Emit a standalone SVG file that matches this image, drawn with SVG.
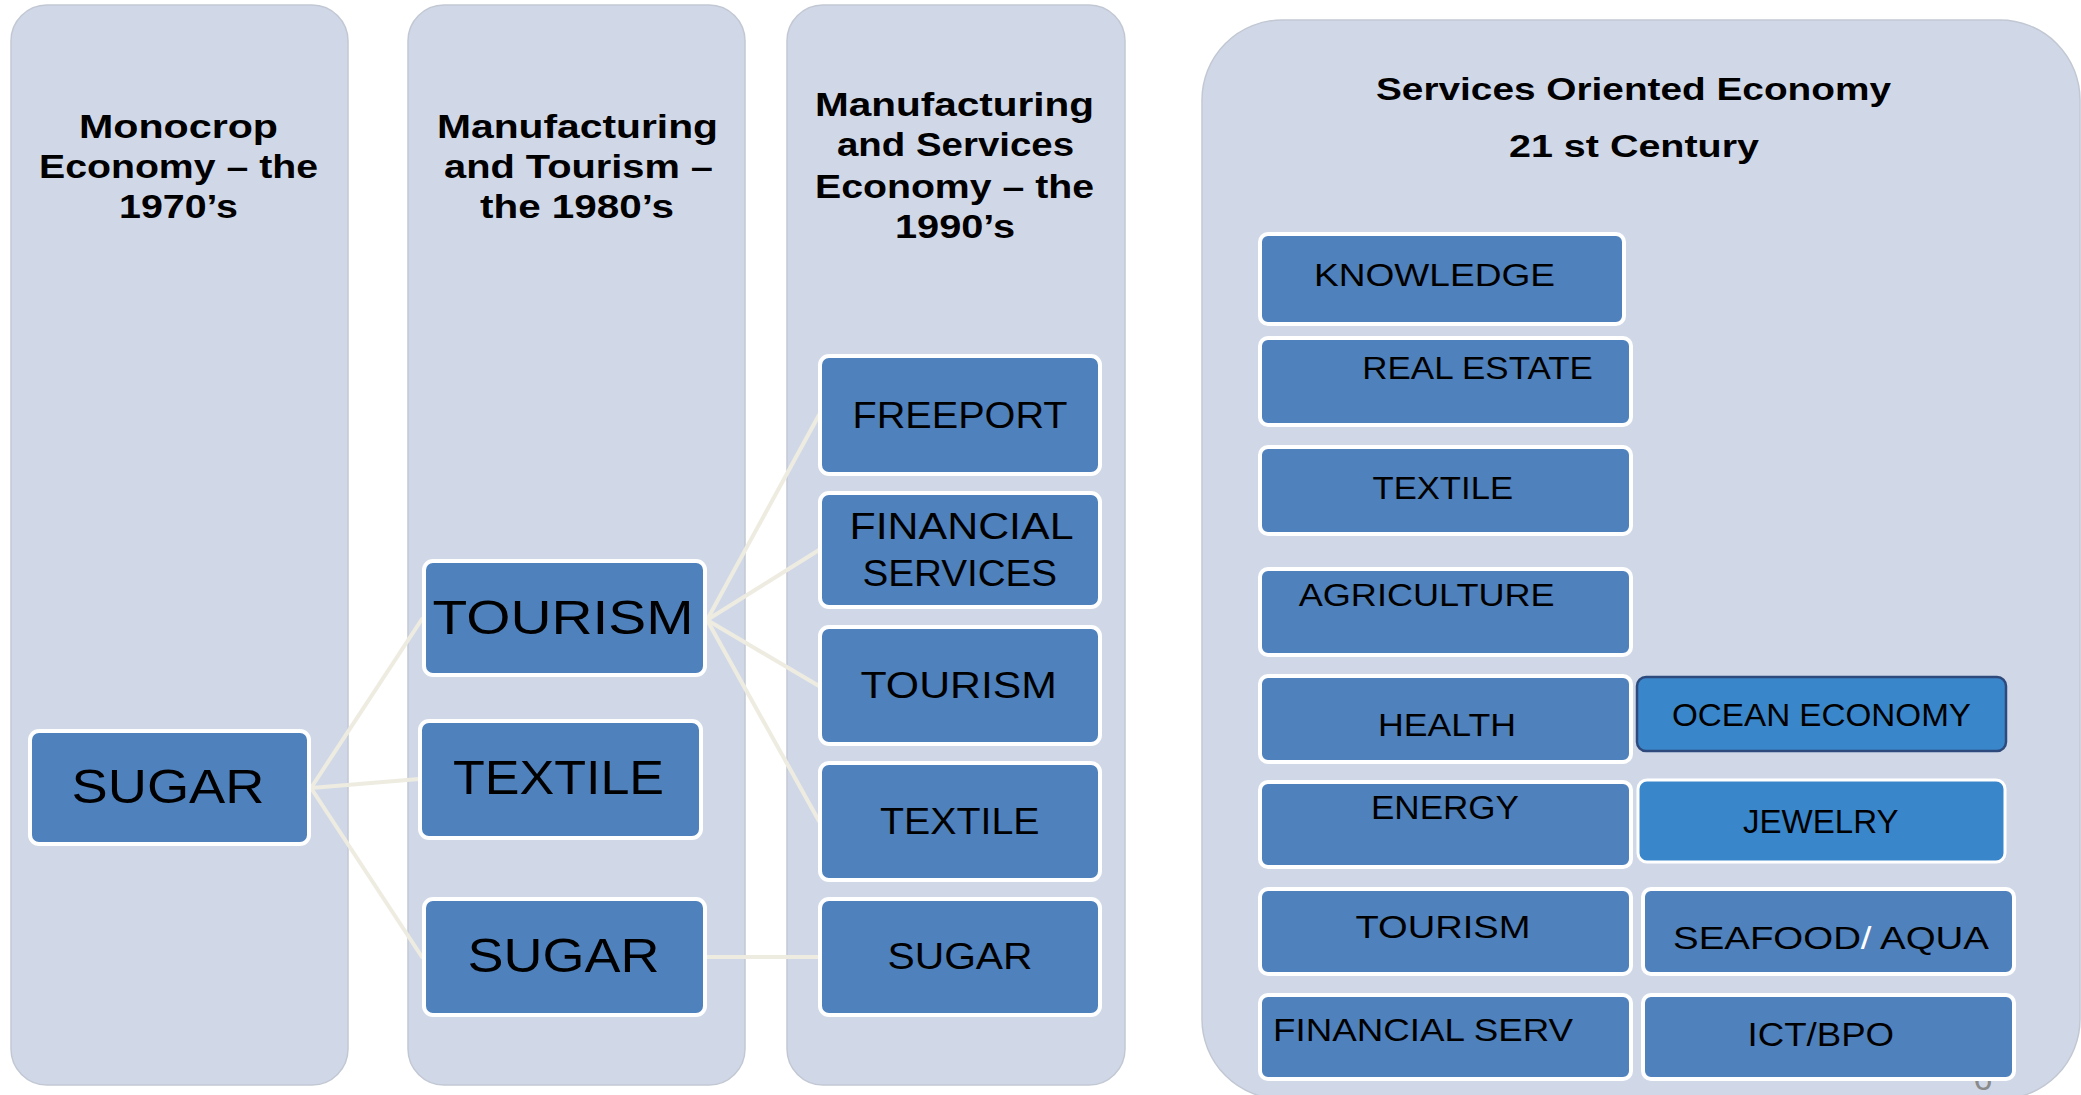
<svg xmlns="http://www.w3.org/2000/svg" width="2081" height="1095" viewBox="0 0 2081 1095">
  <style>
    .panel { fill: #D0D8E8; stroke: #C2C8D3; stroke-width: 1.5; }
    .box { fill: #4F81BD; stroke: #FFFFFF; stroke-width: 4; }
    .box-alt { fill: #3A86CB; stroke: #FFFFFF; stroke-width: 3; }
    .box-dark { fill: #3A86CB; stroke: #2E4A7C; stroke-width: 2.5; }
    .link { stroke: #EEECE1; stroke-width: 4; stroke-linecap: round; fill: none; }
    .hdr { font-family: "Liberation Sans", Arial, sans-serif; font-weight: bold; fill: #000; }
    .lbl { font-family: "Liberation Sans", Arial, sans-serif; fill: #000; }
    .pg { font-family: "Liberation Sans", Arial, sans-serif; fill: #8A8A8A; }
  </style>

  <rect width="2081" height="1095" fill="#FFFFFF"/>

  <!-- era columns -->
  <g id="col-1970s">
    <rect class="panel" x="11" y="5" width="337" height="1080" rx="36"/>
    <text class="hdr" font-size="33" x="79" y="137.5" textLength="199" lengthAdjust="spacingAndGlyphs">Monocrop</text>
    <text class="hdr" font-size="33" x="39" y="177.5" textLength="279" lengthAdjust="spacingAndGlyphs">Economy – the</text>
    <text class="hdr" font-size="33" x="119" y="218" textLength="119" lengthAdjust="spacingAndGlyphs">1970’s</text>
  </g>

  <g id="col-1980s">
    <rect class="panel" x="408" y="5" width="337" height="1080" rx="36"/>
    <text class="hdr" font-size="33" x="437" y="137.5" textLength="281" lengthAdjust="spacingAndGlyphs">Manufacturing</text>
    <text class="hdr" font-size="33" x="444" y="177.5" textLength="269" lengthAdjust="spacingAndGlyphs">and Tourism –</text>
    <text class="hdr" font-size="33" x="480" y="218" textLength="194" lengthAdjust="spacingAndGlyphs">the 1980’s</text>
  </g>

  <g id="col-1990s">
    <rect class="panel" x="787" y="5" width="338" height="1080" rx="36"/>
    <text class="hdr" font-size="33" x="815" y="116" textLength="279" lengthAdjust="spacingAndGlyphs">Manufacturing</text>
    <text class="hdr" font-size="33" x="837" y="156.4" textLength="237" lengthAdjust="spacingAndGlyphs">and Services</text>
    <text class="hdr" font-size="33" x="815" y="197.5" textLength="279" lengthAdjust="spacingAndGlyphs">Economy – the</text>
    <text class="hdr" font-size="33" x="895" y="238.2" textLength="120" lengthAdjust="spacingAndGlyphs">1990’s</text>
  </g>

  <g id="col-21st">
    <rect class="panel" x="1202" y="20" width="878" height="1079" rx="80"/>
    <text class="hdr" font-size="32" x="1376" y="100" textLength="515" lengthAdjust="spacingAndGlyphs">Services Oriented Economy</text>
    <text class="hdr" font-size="32" x="1509" y="157" textLength="250" lengthAdjust="spacingAndGlyphs">21 st Century</text>
  </g>

  <!-- slide number, mostly hidden behind the last box -->
  <text class="pg" font-size="34" x="1983" y="1090" text-anchor="middle">6</text>

  <!-- connectors -->
  <g id="connectors">
    <line class="link" x1="311" y1="788" x2="422" y2="619"/>
    <line class="link" x1="311" y1="788" x2="419" y2="779" stroke-width="5.5"/>
    <line class="link" x1="311" y1="788" x2="422" y2="957"/>
    <line class="link" x1="707" y1="620" x2="819" y2="415"/>
    <line class="link" x1="707" y1="620" x2="819" y2="550"/>
    <line class="link" x1="707" y1="620" x2="819" y2="686"/>
    <line class="link" x1="707" y1="620" x2="819" y2="821"/>
    <line class="link" x1="707" y1="957" x2="819" y2="957" stroke-width="6"/>
  </g>

  <!-- 1970s -->
  <g id="n-sugar-70">
    <rect class="box" x="30" y="731" width="279" height="113" rx="9"/>
    <text class="lbl" font-size="49" x="71.5" y="802.7" textLength="193" lengthAdjust="spacingAndGlyphs">SUGAR</text>
  </g>

  <!-- 1980s -->
  <g id="n-tourism-80">
    <rect class="box" x="424" y="561" width="281" height="114" rx="9"/>
    <text class="lbl" font-size="49" x="432.5" y="633.8" textLength="261" lengthAdjust="spacingAndGlyphs">TOURISM</text>
  </g>
  <g id="n-textile-80">
    <rect class="box" x="420" y="721" width="281" height="117" rx="9"/>
    <text class="lbl" font-size="48" x="453" y="793.8" textLength="211" lengthAdjust="spacingAndGlyphs">TEXTILE</text>
  </g>
  <g id="n-sugar-80">
    <rect class="box" x="424" y="899" width="281" height="116" rx="9"/>
    <text class="lbl" font-size="49" x="467.5" y="971.9" textLength="192" lengthAdjust="spacingAndGlyphs">SUGAR</text>
  </g>

  <!-- 1990s -->
  <g id="n-freeport">
    <rect class="box" x="820" y="356" width="280" height="118" rx="9"/>
    <text class="lbl" font-size="36" x="852.5" y="427.5" textLength="215" lengthAdjust="spacingAndGlyphs">FREEPORT</text>
  </g>
  <g id="n-financial-90">
    <rect class="box" x="820" y="493" width="280" height="114" rx="9"/>
    <text class="lbl" font-size="36" x="849.5" y="538.6" textLength="224" lengthAdjust="spacingAndGlyphs">FINANCIAL</text>
    <text class="lbl" font-size="36" x="862.5" y="586" textLength="194.5" lengthAdjust="spacingAndGlyphs">SERVICES</text>
  </g>
  <g id="n-tourism-90">
    <rect class="box" x="820" y="627" width="280" height="117" rx="9"/>
    <text class="lbl" font-size="36" x="860.5" y="697.5" textLength="196.5" lengthAdjust="spacingAndGlyphs">TOURISM</text>
  </g>
  <g id="n-textile-90">
    <rect class="box" x="820" y="763" width="280" height="117" rx="9"/>
    <text class="lbl" font-size="36" x="880" y="833.8" textLength="159.5" lengthAdjust="spacingAndGlyphs">TEXTILE</text>
  </g>
  <g id="n-sugar-90">
    <rect class="box" x="820" y="899" width="280" height="116" rx="9"/>
    <text class="lbl" font-size="36" x="887.5" y="969.4" textLength="145" lengthAdjust="spacingAndGlyphs">SUGAR</text>
  </g>

  <!-- 21st century -->
  <g id="n-knowledge">
    <rect class="box" x="1260" y="234" width="364" height="90" rx="8"/>
    <text class="lbl" font-size="31" x="1314" y="285.7" textLength="241" lengthAdjust="spacingAndGlyphs">KNOWLEDGE</text>
  </g>
  <g id="n-real-estate">
    <rect class="box" x="1260" y="338" width="371" height="87" rx="8"/>
    <text class="lbl" font-size="31.5" x="1362.3" y="378.6" textLength="230.5" lengthAdjust="spacingAndGlyphs">REAL ESTATE</text>
  </g>
  <g id="n-textile-21">
    <rect class="box" x="1260" y="447" width="371" height="87" rx="8"/>
    <text class="lbl" font-size="31.5" x="1372.5" y="499.3" textLength="140.5" lengthAdjust="spacingAndGlyphs">TEXTILE</text>
  </g>
  <g id="n-agriculture">
    <rect class="box" x="1260" y="569" width="371" height="86" rx="8"/>
    <text class="lbl" font-size="31.5" x="1298.7" y="605.5" textLength="256" lengthAdjust="spacingAndGlyphs">AGRICULTURE</text>
  </g>
  <g id="n-health">
    <rect class="box" x="1260" y="676" width="371" height="86" rx="8"/>
    <text class="lbl" font-size="31" x="1378" y="735.8" textLength="138" lengthAdjust="spacingAndGlyphs">HEALTH</text>
  </g>
  <g id="n-ocean-economy">
    <rect class="box-dark" x="1637" y="677" width="369" height="74" rx="9"/>
    <text class="lbl" font-size="32" x="1672" y="725.8" textLength="299" lengthAdjust="spacingAndGlyphs">OCEAN ECONOMY</text>
  </g>
  <g id="n-energy">
    <rect class="box" x="1260" y="782" width="371" height="85" rx="8"/>
    <text class="lbl" font-size="32.5" x="1371" y="818.6" textLength="148" lengthAdjust="spacingAndGlyphs">ENERGY</text>
  </g>
  <g id="n-jewelry">
    <rect class="box-alt" x="1638" y="780" width="367" height="82" rx="9"/>
    <text class="lbl" font-size="34" x="1743" y="832.5" textLength="155.5" lengthAdjust="spacingAndGlyphs">JEWELRY</text>
  </g>
  <g id="n-tourism-21">
    <rect class="box" x="1260" y="889" width="371" height="85" rx="8"/>
    <text class="lbl" font-size="32" x="1355.5" y="938.2" textLength="175" lengthAdjust="spacingAndGlyphs">TOURISM</text>
  </g>
  <g id="n-seafood">
    <rect class="box" x="1643" y="889" width="371" height="85" rx="8"/>
    <text class="lbl" font-size="32" x="1673" y="948.9" textLength="316" lengthAdjust="spacingAndGlyphs">SEAFOOD<tspan fill="#FFFFFF">/</tspan> AQUA</text>
  </g>
  <g id="n-financial-21">
    <rect class="box" x="1260" y="995" width="371" height="84" rx="8"/>
    <text class="lbl" font-size="32" x="1273" y="1041" textLength="300" lengthAdjust="spacingAndGlyphs">FINANCIAL SERV</text>
  </g>
  <g id="n-ict-bpo">
    <rect class="box" x="1643" y="995" width="371" height="84" rx="8"/>
    <text class="lbl" font-size="33" x="1747.6" y="1045.5" textLength="146.5" lengthAdjust="spacingAndGlyphs">ICT/BPO</text>
  </g>
</svg>
